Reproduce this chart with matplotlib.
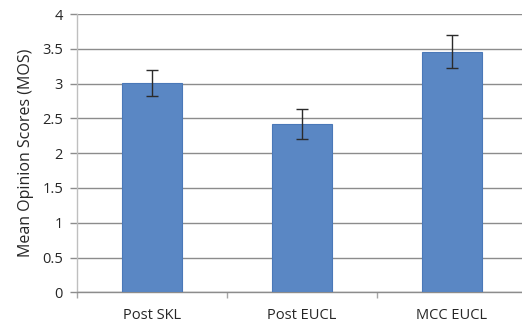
import matplotlib
matplotlib.use("Agg")
import matplotlib.pyplot as plt
import numpy as np

categories = ["Post SKL", "Post EUCL", "MCC EUCL"]
mos = [3.01, 2.42, 3.46]
err = [0.19, 0.21, 0.24]
yticks = [0, 0.5, 1, 1.5, 2, 2.5, 3, 3.5, 4]
ytick_labels = ["0", "0.5", "1", "1.5", "2", "2.5", "3", "3.5", "4"]

plt.rcParams["font.family"] = ["Open Sans", "DejaVu Sans"]

fig = plt.figure(figsize=(5.22, 3.30), dpi=100)
ax = fig.add_axes([77 / 522, 1 - 292.3 / 330, 450 / 522, (292.3 - 14) / 330])

x = np.arange(len(categories))
ax.bar(x, mos, width=0.4, color="#5a87c4", edgecolor="#4a78b8", linewidth=0.8, zorder=3)
ax.errorbar(x, mos, yerr=err, fmt="none", ecolor="#2b2b2b", elinewidth=1.0,
            capsize=4, capthick=1.0, zorder=4)

ax.set_xlim(-0.5, len(categories) - 0.5)
ax.set_ylim(0, 4)
ax.set_yticks(yticks)
ax.set_yticklabels(ytick_labels, fontsize=10.5, color="#262626")
ax.set_xticks(x)
ax.set_xticklabels(categories, fontsize=10.5, color="#262626")
ax.set_xticks(np.arange(len(categories) + 1) - 0.5, minor=True)

ax.tick_params(axis="x", which="major", length=0, pad=11)
ax.tick_params(axis="x", which="minor", length=4, width=1.0, color="#a6a6a6", direction="out")
ax.tick_params(axis="y", which="major", length=5, width=1.0, color="#8c8c8c", pad=5)

ax.yaxis.grid(True, color="#8c8c8c", linewidth=1.0, zorder=0)
ax.set_axisbelow(True)

for side in ["top", "right"]:
    ax.spines[side].set_visible(False)
ax.spines["left"].set_color("#bfbfbf")
ax.spines["left"].set_linewidth(1.0)
ax.spines["bottom"].set_color("#8c8c8c")
ax.spines["bottom"].set_linewidth(1.0)

ax.set_ylabel("Mean Opinion Scores (MOS)", fontsize=11.5, color="#262626", labelpad=6)

fig.savefig("out.png", dpi=100)
